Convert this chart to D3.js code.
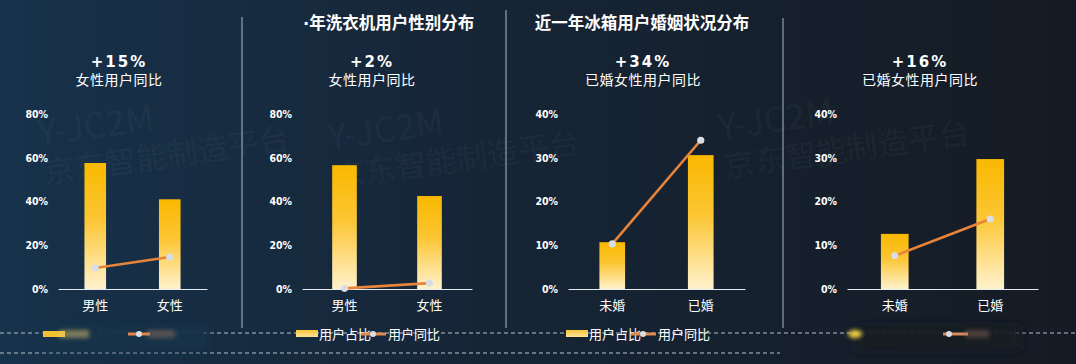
<!DOCTYPE html>
<html><head><meta charset="utf-8">
<script src="https://cdn.jsdelivr.net/npm/d3@7"></script>
<style>body{margin:0;background:#151d27;}svg{display:block}</style>
</head><body>
<script>
// ---- data ----
const genderCats = ["男性", "女性"];
const maritalCats = ["未婚", "已婚"];
const panel1Share = [57.6, 41.0];
const panel1Yoy = [9.6, 14.6];
const panel2Share = [56.6, 42.5];
const panel2Yoy = [0.3, 2.7];
const panel3Share = [10.7, 30.6];
const panel3Yoy = [10.3, 34.0];
const panel4Share = [12.6, 29.7];
const panel4Yoy = [7.6, 16.0];
const ticks80 = [0, 20, 40, 60, 80];
const ticks40 = [0, 10, 20, 30, 40];
const headlines = ["+15%", "+2%", "+34%", "+16%"];
const subtitles = ["女性用户同比", "女性用户同比", "已婚女性用户同比", "已婚女性用户同比"];
const titleDot = "·";
const titles = ["年洗衣机用户性别分布", "近一年冰箱用户婚姻状况分布"];
const legendNames = ["用户占比", "用户同比"];
const watermark = ["Y-JC2M", "京东智能制造平台"];

const W = 1076, H = 364;
const svg = d3.select("body").append("svg").attr("width", W).attr("height", H);
const defs = svg.append("defs");
const bg = defs.append("linearGradient").attr("id", "bg").attr("x1", 0).attr("x2", 1).attr("y1", 0).attr("y2", 0);
bg.append("stop").attr("offset", 0).attr("stop-color", "#17324b");
bg.append("stop").attr("offset", 0.45).attr("stop-color", "#162536");
bg.append("stop").attr("offset", 1).attr("stop-color", "#151b24");
const barG = defs.append("linearGradient").attr("id", "barG").attr("x1", 0).attr("x2", 0).attr("y1", 0).attr("y2", 1);
barG.append("stop").attr("offset", 0).attr("stop-color", "#f9b800");
barG.append("stop").attr("offset", 0.45).attr("stop-color", "#fcc634");
barG.append("stop").attr("offset", 1).attr("stop-color", "#fff2cc");
const legG = defs.append("linearGradient").attr("id", "legG").attr("x1", 0).attr("x2", 0).attr("y1", 0).attr("y2", 1);
legG.append("stop").attr("offset", 0).attr("stop-color", "#f7c53a");
legG.append("stop").attr("offset", 1).attr("stop-color", "#fde39a");
defs.append("filter").attr("id", "blur").attr("x", "-50%").attr("y", "-200%").attr("width", "200%").attr("height", "500%")
  .append("feGaussianBlur").attr("stdDeviation", 2.2);
defs.append("filter").attr("id", "blur2").attr("x", "-50%").attr("y", "-200%").attr("width", "200%").attr("height", "500%")
  .append("feGaussianBlur").attr("stdDeviation", 5);

svg.append("rect").attr("width", W).attr("height", H).attr("fill", "url(#bg)");

// watermark
[[40, 146], [330, 150], [720, 140]].forEach(([x, y]) => {
  const g = svg.append("g").attr("transform", `translate(${x},${y}) rotate(-8)`)
    .attr("fill", "#ffffff").attr("fill-opacity", 0.05)
    .style("font-family", "'Noto Sans CJK SC', 'Noto Sans', sans-serif");
  g.append("text").attr("x", 0).attr("y", 0).style("font-size", "35px").text(watermark[0]);
  g.append("text").attr("x", 0).attr("y", 38).style("font-size", "31px").text(watermark[1]);
});

// dividers
[[242, 17], [506, 10], [783, 18]].forEach(([x, y0]) => {
  svg.append("line").attr("x1", x).attr("x2", x).attr("y1", y0).attr("y2", 328)
    .attr("stroke", "#c9d2dc").attr("stroke-width", 1).attr("stroke-opacity", 0.85);
});

// dashed lines
svg.append("line").attr("x1", 0).attr("x2", W).attr("y1", 333).attr("y2", 333)
  .attr("stroke", "#b7c2cd").attr("stroke-dasharray", "4,3").attr("stroke-width", 1);
svg.append("line").attr("x1", 0).attr("x2", 780).attr("y1", 353).attr("y2", 353)
  .attr("stroke", "#b7c2cd").attr("stroke-dasharray", "4,3").attr("stroke-width", 1);

// titles
const cjk = "'Noto Sans CJK SC', 'Noto Sans', sans-serif";
const t1 = svg.append("text").attr("x", 303).attr("y", 29)
  .attr("fill", "#ffffff").style("font-family", cjk).style("font-weight", "bold").style("font-size", "16.5px");
t1.append("tspan").style("font-family", "'DejaVu Sans', sans-serif").text(titleDot);
t1.append("tspan").attr("dx", 0).text(titles[0]);
svg.append("text").attr("x", 642).attr("y", 29).attr("text-anchor", "middle")
  .attr("fill", "#ffffff").style("font-family", cjk).style("font-weight", "bold").style("font-size", "16.5px").text(titles[1]);

const panels = [
  { cats: genderCats, share: panel1Share, yoy: panel1Yoy, ticks: ticks80, x0: 58, x1: 207, cx: 119, legend: "blur" },
  { cats: genderCats, share: panel2Share, yoy: panel2Yoy, ticks: ticks80, x0: 302, x1: 472, cx: 372, legend: "clear", lx: 296 },
  { cats: maritalCats, share: panel3Share, yoy: panel3Yoy, ticks: ticks40, x0: 568, x1: 745, cx: 643, legend: "clear", lx: 566 },
  { cats: maritalCats, share: panel4Share, yoy: panel4Yoy, ticks: ticks40, x0: 847, x1: 1038, cx: 920, legend: "blur" }
];

const yTop = 114, yBase = 289;

panels.forEach((p, i) => {
  const g = svg.append("g");
  // headline
  g.append("text").attr("x", p.cx).attr("y", 67).attr("text-anchor", "middle").attr("fill", "#ffffff")
    .style("font-family", "'DejaVu Sans', sans-serif").style("font-weight", "900").style("font-size", "15px")
    .style("letter-spacing", "2px").text(headlines[i]);
  g.append("text").attr("x", p.cx).attr("y", 85).attr("text-anchor", "middle").attr("fill", "#ffffff")
    .style("font-family", cjk).style("font-size", "14px").style("letter-spacing", "0.5px").text(subtitles[i]);

  const x = d3.scaleBand().domain(p.cats).range([p.x0, p.x1]);
  const y = d3.scaleLinear().domain([0, d3.max(p.ticks)]).range([yBase, yTop]);

  // y axis labels
  const ya = g.append("g").attr("transform", `translate(${p.x0 - 10},0)`)
    .call(d3.axisLeft(y).tickValues(p.ticks).tickFormat(d => d + "%").tickSize(0).tickPadding(0));
  ya.select(".domain").remove();
  ya.selectAll("text").attr("fill", "#ffffff").style("font-family", "'DejaVu Sans Condensed', 'DejaVu Sans', sans-serif")
    .style("font-weight", "bold").style("font-size", "10.5px");

  // x axis
  const xa = g.append("g").attr("transform", `translate(0,${yBase})`)
    .call(d3.axisBottom(x).tickSize(0).tickPadding(12));
  xa.select(".domain").attr("stroke", "#e6ebf0").attr("stroke-width", 1.2);
  xa.selectAll("text").attr("fill", "#ffffff").style("font-family", cjk).style("font-size", "13px");

  // bars
  const bw = x.bandwidth() * 0.29;
  g.selectAll(".bar").data(p.share).enter().append("rect")
    .attr("x", (d, j) => x(p.cats[j]) + x.bandwidth() / 2 - bw / 2)
    .attr("y", d => y(d)).attr("width", bw).attr("height", d => yBase - y(d))
    .attr("fill", "url(#barG)");

  // line
  const line = d3.line().x((d, j) => x(p.cats[j]) + x.bandwidth() / 2).y(d => y(d));
  g.append("path").datum(p.yoy).attr("d", line).attr("fill", "none")
    .attr("stroke", "#e8843a").attr("stroke-width", 2.6);
  g.selectAll(".dot").data(p.yoy).enter().append("circle")
    .attr("cx", (d, j) => x(p.cats[j]) + x.bandwidth() / 2).attr("cy", d => y(d)).attr("r", 3.6)
    .attr("fill", "#d9dee4");

  // legend
  if (p.legend === "clear") {
    const lg = g.append("g").attr("transform", `translate(${p.lx},334)`);
    lg.append("rect").attr("x", 0).attr("y", -4).attr("width", 22).attr("height", 7).attr("fill", "url(#legG)");
    lg.append("text").attr("x", 23).attr("y", 5).attr("fill", "#ffffff").style("font-family", cjk).style("font-size", "13px").text(legendNames[0]);
    lg.append("line").attr("x1", 65).attr("x2", 90).attr("y1", 0).attr("y2", 0).attr("stroke", "#e08a4e").attr("stroke-width", 3);
    lg.append("circle").attr("cx", 77).attr("cy", 0).attr("r", 3).attr("fill", "#d9dee4");
    lg.append("text").attr("x", 92).attr("y", 5).attr("fill", "#ffffff").style("font-family", cjk).style("font-size", "13px").text(legendNames[1]);
  } else {
    const lx = i === 0 ? 43 : 855;
    const lg = g.append("g").attr("transform", `translate(${lx},334)`);
    lg.append("rect").attr("x", 0).attr("y", -8).attr("width", 165).attr("height", 24).attr("fill", i === 0 ? "#173049" : "#151b24").attr("filter", "url(#blur2)");
    if (i === 0) {
      lg.append("rect").attr("x", 0).attr("y", -3).attr("width", 22).attr("height", 6).attr("fill", "#f3c233");
      lg.append("rect").attr("x", 16).attr("y", -4).attr("width", 30).attr("height", 8).attr("fill", "#e3c56a").attr("opacity", 0.5).attr("filter", "url(#blur)");
      lg.append("line").attr("x1", 85).attr("x2", 107).attr("y1", 0).attr("y2", 0).attr("stroke", "#e0854a").attr("stroke-width", 3);
      lg.append("circle").attr("cx", 96).attr("cy", 0).attr("r", 3).attr("fill", "#d9dee4");
      lg.append("rect").attr("x", 104).attr("y", -4).attr("width", 28).attr("height", 8).attr("fill", "#b08060").attr("opacity", 0.4).attr("filter", "url(#blur)");
    } else {
      lg.append("ellipse").attr("cx", 0).attr("cy", 0).attr("rx", 7).attr("ry", 4).attr("fill", "#f0d040").attr("filter", "url(#blur)");
      lg.append("line").attr("x1", 88).attr("x2", 113).attr("y1", 0).attr("y2", 0).attr("stroke", "#d98a5a").attr("stroke-width", 3);
      lg.append("circle").attr("cx", 94).attr("cy", 0).attr("r", 3).attr("fill", "#d9dee4");
      lg.append("rect").attr("x", 110).attr("y", -4).attr("width", 24).attr("height", 8).attr("fill", "#a07060").attr("opacity", 0.4).attr("filter", "url(#blur)");
    }
  }
});
</script>
</body></html>
